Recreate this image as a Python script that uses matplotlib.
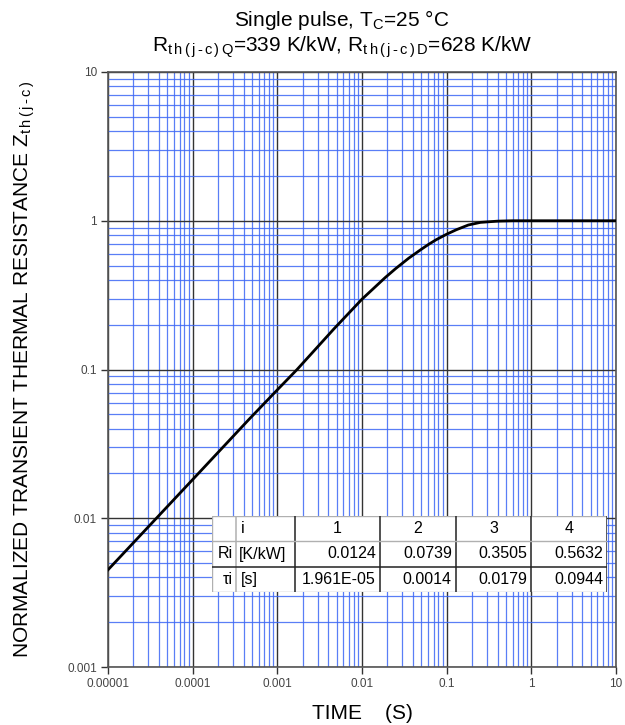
import matplotlib
matplotlib.use("Agg")
import matplotlib.pyplot as plt
from matplotlib.ticker import LogLocator, FixedLocator, FixedFormatter, NullFormatter

plt.rcParams["font.family"] = ["Liberation Sans", "DejaVu Sans"]
plt.rcParams["mathtext.fontset"] = "custom"
plt.rcParams["mathtext.rm"] = "Liberation Sans"

# curve (time in s, normalized Zth)
time_s = [1e-5, 1e-4, 4.69e-4, 1e-3, 1.71e-3, 4.68e-3, 1e-2, 1.88e-2, 2.5e-2, 3.56e-2,
          5e-2, 6.1e-2, 7.5e-2, 0.1, 0.13, 0.18, 0.25, 0.4, 0.6, 1.0, 10.0]
zth = [0.0045, 0.0182, 0.0466, 0.073, 0.100, 0.188, 0.297, 0.415, 0.477, 0.560,
       0.642, 0.693, 0.745, 0.812, 0.870, 0.936, 0.975, 0.994, 1.0, 1.0, 1.0]

x_ticks = [1e-5, 1e-4, 1e-3, 1e-2, 1e-1, 1, 10]
x_labels = ["0.00001", "0.0001", "0.001", "0.01", "0.1", "1", "10"]
y_ticks = [1e-3, 1e-2, 1e-1, 1, 10]
y_labels = ["0.001", "0.01", "0.1", "1", "10"]

# Foster network table
tbl_header = ["i", "1", "2", "3", "4"]
tbl_ri = ["0.0124", "0.0739", "0.3505", "0.5632"]
tbl_tau = ["1.961E-05", "0.0014", "0.0179", "0.0944"]

fig = plt.figure(figsize=(6.25, 7.25), dpi=100)
ax = fig.add_axes([108 / 625, 1 - 667 / 725, 508 / 625, 595 / 725])

ax.set_xscale("log")
ax.set_yscale("log")
ax.set_xlim(1e-5, 10)
ax.set_ylim(1e-3, 10)

ax.xaxis.set_major_locator(FixedLocator(x_ticks))
ax.xaxis.set_major_formatter(FixedFormatter(x_labels))
ax.yaxis.set_major_locator(FixedLocator(y_ticks))
ax.yaxis.set_major_formatter(FixedFormatter(y_labels))
ax.xaxis.set_minor_locator(LogLocator(base=10, subs=[2, 3, 4, 5, 6, 7, 8, 9], numticks=20))
ax.yaxis.set_minor_locator(LogLocator(base=10, subs=[2, 3, 4, 5, 6, 7, 8, 9], numticks=20))
ax.xaxis.set_minor_formatter(NullFormatter())
ax.yaxis.set_minor_formatter(NullFormatter())

ax.grid(which="minor", color="#3d68f5", lw=0.9, alpha=0.85)
ax.grid(which="major", color="#333333", lw=1.0)
ax.set_axisbelow(True)
ax.tick_params(which="minor", length=0)
ax.tick_params(which="major", length=5, width=1, color="#333333",
               labelsize=8.5, labelcolor="#444444", pad=3)
for sp in ax.spines.values():
    sp.set_color("#555555")
    sp.set_linewidth(1.2)

ax.plot(time_s, zth, color="black", lw=2.0, zorder=5)

ax.set_xlabel("TIME    (S)", fontsize=15, labelpad=10)
fig.text(25 / 625, 1 - 369 / 725,
         r"NORMALIZED TRANSIENT THERMAL RESISTANCE Z$_\mathregular{t\,h\,(\,j\,\text{-}\,c\,)}$",
         rotation=90, ha="center", va="center", fontsize=15)

fig.text(342 / 625, 1 - 20 / 725, "Single pulse, T$_\\mathregular{C}$=25 °C",
         ha="center", va="center", fontsize=15)
fig.text(342 / 625, 1 - 47 / 725,
         r"R$_\mathregular{t\,h\,(\,j\,\text{-}\,c\,)\,Q}$=339 K/kW, "
         r"R$_\mathregular{t\,h\,(\,j\,\text{-}\,c\,)\,D}$=628 K/kW",
         ha="center", va="center", fontsize=15)

# table drawn in its own axes
tax = fig.add_axes([212 / 625, 1 - 592 / 725, 395 / 625, 76 / 725])
tax.set_xlim(0, 1)
tax.set_ylim(0, 1)
tax.axis("off")
tax.add_patch(plt.Rectangle((0, 0), 1, 1, facecolor="white", edgecolor="#b0b0b0", lw=1))
cols = [0, 0.0608, 0.210, 0.425, 0.617, 0.808, 1.0]
for i, c in enumerate(cols[1:-1]):
    tax.plot([c, c], [0, 1], color="#b0b0b0" if i == 0 else "#222222", lw=1.1)
tax.plot([1, 1], [0, 1], color="#333333", lw=1.1)
tax.plot([0, 1], [2 / 3, 2 / 3], color="#b0b0b0", lw=1)
tax.plot([0, 1], [1 / 3, 1 / 3], color="#222222", lw=1.1)

fs = 11.5
rows_y = [5 / 6, 0.5, 1 / 6]
tax.text(cols[1] + 0.012, rows_y[0], tbl_header[0], ha="left", va="center", fontsize=fs)
for k, h in enumerate(tbl_header[1:]):
    tax.text((cols[k + 2] + cols[k + 3]) / 2, rows_y[0], h, ha="center", va="center", fontsize=fs)
tax.text(cols[1] - 0.008, rows_y[1], "Ri", ha="right", va="center", fontsize=fs)
tax.text(cols[1] + 0.008, rows_y[1], "[K/kW]", ha="left", va="center", fontsize=fs)
tax.text(cols[1] - 0.008, rows_y[2], "τi", ha="right", va="center", fontsize=fs)
tax.text(cols[1] + 0.012, rows_y[2], "[s]", ha="left", va="center", fontsize=fs)
for k in range(4):
    tax.text(cols[k + 3] - 0.01, rows_y[1], tbl_ri[k], ha="right", va="center", fontsize=fs)
    tax.text(cols[k + 3] - 0.01, rows_y[2], tbl_tau[k], ha="right", va="center", fontsize=fs)

fig.savefig("out.png", dpi=100)
